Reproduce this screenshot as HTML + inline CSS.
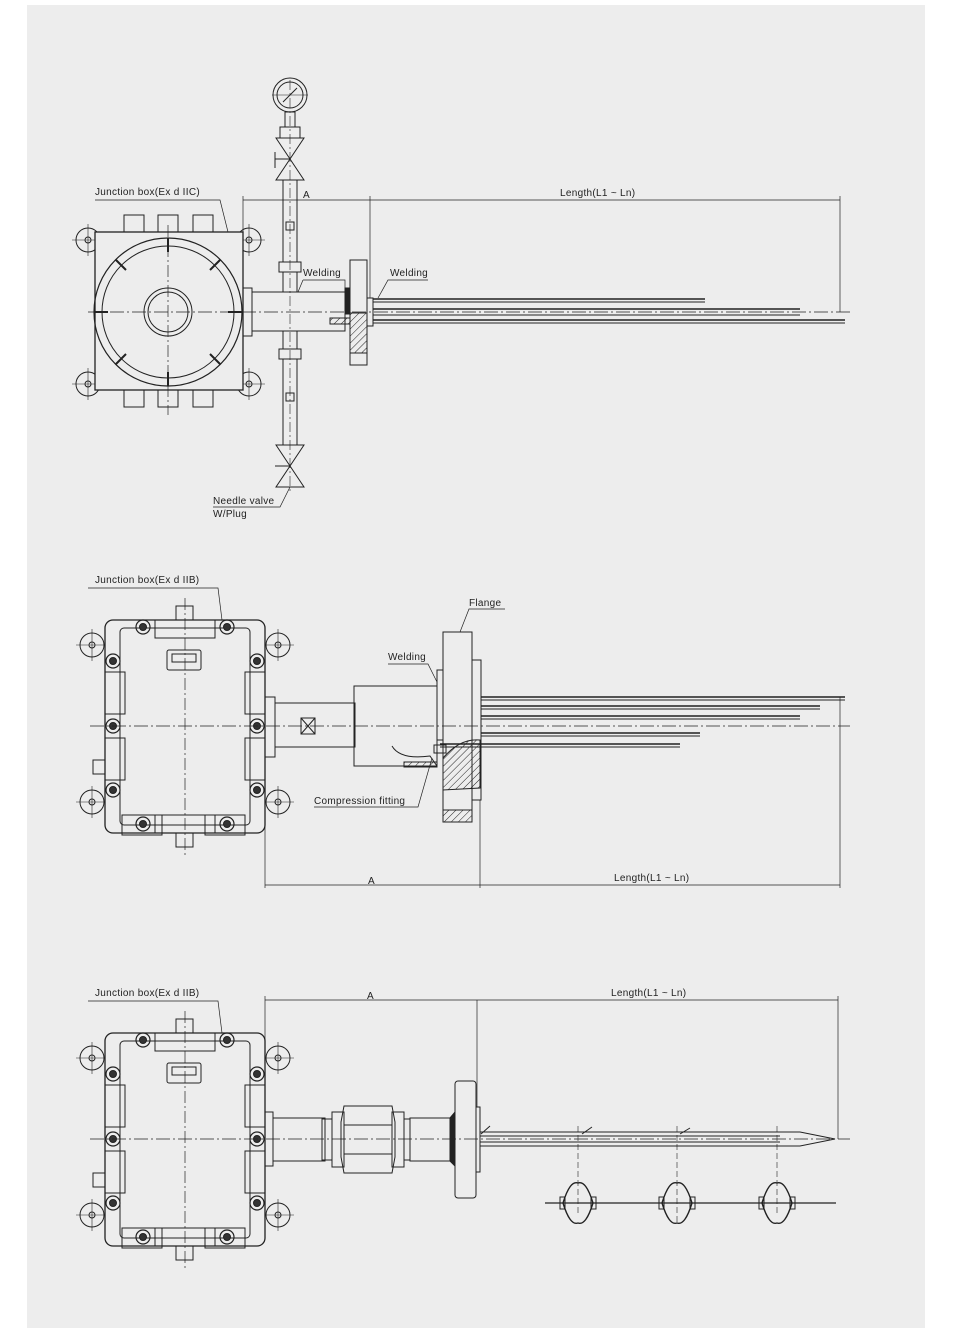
<!DOCTYPE html>
<html><head><meta charset="utf-8"><style>
html,body{margin:0;padding:0;background:#fff}
svg{display:block}
text{font-family:"Liberation Sans",sans-serif;font-size:10px;fill:#222;letter-spacing:0.3px}
</style></head><body>
<svg width="954" height="1331" viewBox="0 0 954 1331" xmlns="http://www.w3.org/2000/svg">
<defs>
<pattern id="h" width="5" height="5" patternUnits="userSpaceOnUse" patternTransform="rotate(45)"><line x1="0" y1="0" x2="0" y2="5" stroke="#222" stroke-width="1"/></pattern>
<g id="bolt"><circle r="7" fill="none" stroke="#222" stroke-width="1.2"/><circle r="3.5" fill="#333"/></g>
<g id="ear"><circle r="12" fill="none" stroke="#222"/><circle r="3" fill="none" stroke="#222"/><line x1="-16" y1="0" x2="16" y2="0" stroke="#222" stroke-width=".6"/><line x1="0" y1="-16" x2="0" y2="16" stroke="#222" stroke-width=".6"/></g>
<g id="boxB" fill="none" stroke="#222" stroke-width="1">
 <use href="#ear" x="92" y="645"/><use href="#ear" x="278" y="645"/><use href="#ear" x="92" y="802"/><use href="#ear" x="278" y="802"/>
 <rect x="105" y="620" width="160" height="213" rx="8" fill="#ededed" stroke-width="1.3"/>
 <rect x="120" y="628" width="130" height="197" rx="4"/>
 <rect x="155" y="620" width="60" height="18"/>
 <rect x="155" y="815" width="60" height="18"/>
 <rect x="105" y="672" width="20" height="42"/><rect x="105" y="738" width="20" height="42"/>
 <rect x="245" y="672" width="20" height="42"/><rect x="245" y="738" width="20" height="42"/>
 <rect x="176" y="606" width="17" height="14"/><rect x="176" y="833" width="17" height="14"/>
 <rect x="167" y="650" width="34" height="20" rx="2"/><rect x="172" y="654" width="24" height="8"/>
 <rect x="122" y="815" width="40" height="20"/><rect x="205" y="815" width="40" height="20"/>
 <use href="#bolt" x="143" y="627"/><use href="#bolt" x="227" y="627"/>
 <use href="#bolt" x="113" y="661"/><use href="#bolt" x="257" y="661"/>
 <use href="#bolt" x="113" y="726"/><use href="#bolt" x="257" y="726"/>
 <use href="#bolt" x="113" y="790"/><use href="#bolt" x="257" y="790"/>
 <use href="#bolt" x="143" y="824"/><use href="#bolt" x="227" y="824"/>
 <rect x="93" y="760" width="12" height="14"/>
 <line x1="185" y1="598" x2="185" y2="855" stroke-dasharray="12 3 2 3" stroke-width=".7"/>
</g>
</defs>
<rect x="27" y="5" width="898" height="1323" fill="#ededed"/>

<!-- SECTION 1 -->
<g fill="none" stroke="#222" stroke-width="1">
 <use href="#ear" x="88" y="240"/><use href="#ear" x="249" y="240"/><use href="#ear" x="88" y="384"/><use href="#ear" x="249" y="384"/>
 <rect x="95" y="232" width="148" height="158" fill="#ededed" stroke-width="1.3"/>
 <circle cx="168" cy="312" r="74" stroke-width="1.2"/>
 <circle cx="168" cy="312" r="66"/>
 <circle cx="168" cy="312" r="24"/><circle cx="168" cy="312" r="20"/>
 <g stroke-width="2"><line x1="168" y1="238" x2="168" y2="252"/><line x1="168" y1="372" x2="168" y2="386"/><line x1="94" y1="312" x2="108" y2="312"/><line x1="228" y1="312" x2="242" y2="312"/>
 <line x1="116" y1="260" x2="126" y2="270"/><line x1="220" y1="260" x2="210" y2="270"/><line x1="116" y1="364" x2="126" y2="354"/><line x1="220" y1="364" x2="210" y2="354"/></g>
 <rect x="124" y="215" width="20" height="17"/><rect x="158" y="215" width="20" height="17"/><rect x="193" y="215" width="20" height="17"/>
 <rect x="124" y="390" width="20" height="17"/><rect x="158" y="390" width="20" height="17"/><rect x="193" y="390" width="20" height="17"/>
 <line x1="168" y1="225" x2="168" y2="415" stroke-dasharray="12 3 2 3" stroke-width=".7"/>
 <line x1="88" y1="312" x2="850" y2="312" stroke-dasharray="14 3 2 3" stroke-width=".7"/>
 <rect x="243" y="288" width="9" height="48"/>
 <rect x="252" y="292" width="93" height="39"/>
 <rect x="345" y="288" width="5" height="26" fill="#222"/>
 <rect x="330" y="318" width="20" height="6" fill="url(#h)"/>
 <rect x="350" y="260" width="17" height="105"/>
 <rect x="350" y="313" width="17" height="40" fill="url(#h)"/>
 <!-- vertical tube -->
 <circle cx="290" cy="95" r="17"/><circle cx="290" cy="95" r="13"/>
 <line x1="283" y1="102" x2="297" y2="88"/>
 <rect x="285" y="112" width="10" height="15"/><rect x="280" y="127" width="20" height="11"/>
 <path d="M276 138 L304 180 L276 180 L304 138 Z"/>
 <line x1="275" y1="159" x2="290" y2="159"/><line x1="275" y1="152" x2="275" y2="168"/>
 <rect x="283" y="180" width="14" height="82"/>
 <rect x="279" y="262" width="22" height="10"/><rect x="283" y="272" width="14" height="20"/>
 <rect x="283" y="331" width="14" height="18"/><rect x="279" y="349" width="22" height="10"/>
 <rect x="283" y="359" width="14" height="86"/>
 <path d="M276 445 L304 487 L276 487 L304 445 Z"/>
 <line x1="275" y1="466" x2="290" y2="466"/>
 <rect x="286" y="222" width="8" height="8"/><rect x="286" y="393" width="8" height="8"/>
 <line x1="290" y1="80" x2="290" y2="492" stroke-dasharray="10 3 2 3" stroke-width=".6"/>
 <line x1="272" y1="95" x2="308" y2="95" stroke-width=".6"/>
 <!-- probes -->
 <rect x="367" y="298" width="6" height="28"/>
 <line x1="373" y1="299" x2="705" y2="299" stroke-width="1.5"/><line x1="373" y1="302" x2="705" y2="302" stroke-width="1"/>
 <line x1="373" y1="309" x2="800" y2="309" stroke-width="1.5"/><line x1="373" y1="315" x2="800" y2="315" stroke-width="1"/>
 <line x1="373" y1="320" x2="845" y2="320" stroke-width="1.5"/><line x1="373" y1="323" x2="845" y2="323" stroke-width="1"/>
 <!-- dims -->
 <line x1="243" y1="200" x2="840" y2="200" stroke-width=".7"/>
 <line x1="243" y1="196" x2="243" y2="232" stroke-width=".7"/>
 <line x1="370" y1="196" x2="370" y2="298" stroke-width=".7"/>
 <line x1="840" y1="196" x2="840" y2="312" stroke-width=".7"/>
 <polyline points="95,200 220,200 228,232" stroke-width=".7"/>
 <polyline points="303,280 345,280 345,290" stroke-width=".7"/><line x1="303" y1="280" x2="298" y2="292" stroke-width=".7"/>
 <polyline points="428,280 388,280 378,298" stroke-width=".7"/>
 <polyline points="213,507 280,507 290,487" stroke-width=".7"/>
</g>
<text x="95" y="195">Junction box(Ex d IIC)</text>
<text x="303" y="198">A</text>
<text x="560" y="196">Length(L1 ~ Ln)</text>
<text x="303" y="276">Welding</text>
<text x="390" y="276">Welding</text>
<text x="213" y="504">Needle valve</text>
<text x="213" y="517">W/Plug</text>

<!-- SECTION 2 -->
<use href="#boxB"/>
<g fill="none" stroke="#222" stroke-width="1">
 <line x1="90" y1="726" x2="850" y2="726" stroke-dasharray="14 3 2 3" stroke-width=".7"/>
 <rect x="265" y="697" width="10" height="60"/>
 <rect x="275" y="703" width="80" height="44"/>
 <rect x="301" y="718" width="14" height="16"/><path d="M301 718 L315 734 M315 718 L301 734"/>
 <rect x="354" y="686" width="83" height="80"/>
 <path d="M392 746 Q400 760 430 756 L437 766" />
 <rect x="404" y="762" width="33" height="5" fill="url(#h)"/>
 <rect x="437" y="670" width="6" height="70"/>
 <rect x="443" y="632" width="29" height="190"/>
 <path d="M443 758 Q460 738 480 740 L480 788 L443 790 Z" fill="url(#h)"/>
 <rect x="443" y="810" width="29" height="12" fill="url(#h)"/>
 <rect x="472" y="660" width="9" height="140"/>
 <line x1="481" y1="697" x2="845" y2="697" stroke-width="1.5"/><line x1="481" y1="700" x2="845" y2="700"/>
 <line x1="481" y1="706" x2="820" y2="706" stroke-width="1.5"/><line x1="481" y1="709" x2="820" y2="709"/>
 <line x1="481" y1="716" x2="800" y2="716" stroke-width="1.5"/><line x1="481" y1="719" x2="800" y2="719"/>
 <line x1="481" y1="733" x2="700" y2="733" stroke-width="1.5"/><line x1="481" y1="736" x2="700" y2="736"/>
 <line x1="440" y1="744" x2="680" y2="744" stroke-width="1.5"/><line x1="440" y1="747" x2="680" y2="747"/>
 <rect x="434" y="745" width="12" height="8"/>
 <line x1="265" y1="757" x2="265" y2="888" stroke-width=".7"/>
 <line x1="480" y1="800" x2="480" y2="888" stroke-width=".7"/>
 <line x1="840" y1="697" x2="840" y2="888" stroke-width=".7"/>
 <line x1="265" y1="885" x2="840" y2="885" stroke-width=".7"/>
 <polyline points="88,588 218,588 222,620" stroke-width=".7"/>
 <polyline points="505,609 469,609 460,632" stroke-width=".7"/>
 <polyline points="388,664 428,664 437,682" stroke-width=".7"/>
 <polyline points="314,807 418,807 432,758" stroke-width=".7"/>
</g>
<text x="95" y="583">Junction box(Ex d IIB)</text>
<text x="469" y="606">Flange</text>
<text x="388" y="660">Welding</text>
<text x="314" y="804">Compression fitting</text>
<text x="368" y="884">A</text>
<text x="614" y="881">Length(L1 ~ Ln)</text>

<!-- SECTION 3 -->
<use href="#boxB" y="413"/>
<g fill="none" stroke="#222" stroke-width="1">
 <line x1="90" y1="1139" x2="850" y2="1139" stroke-dasharray="14 3 2 3" stroke-width=".7"/>
 <rect x="265" y="1112" width="8" height="54"/>
 <rect x="273" y="1118" width="52" height="43"/>
 <rect x="322" y="1119" width="10" height="41"/><rect x="332" y="1112" width="12" height="55"/>
 <path d="M344 1106 L392 1106 L395 1122 L395 1157 L392 1173 L344 1173 L341 1157 L341 1122 Z"/>
 <line x1="344" y1="1125" x2="392" y2="1125"/><line x1="344" y1="1154" x2="392" y2="1154"/>
 <rect x="392" y="1112" width="12" height="55"/><rect x="404" y="1119" width="6" height="41"/>
 <rect x="410" y="1118" width="40" height="43"/>
 <path d="M450 1118 L455 1112 L455 1166 L450 1161 Z" fill="#222"/>
 <rect x="455" y="1081" width="21" height="117" rx="3"/>
 <rect x="476" y="1107" width="4" height="65"/>
 <path d="M480 1132 L800 1132 L835 1139 L800 1146 L480 1146" />
 <line x1="480" y1="1136" x2="780" y2="1136"/><line x1="480" y1="1142" x2="780" y2="1142"/>
 <path d="M481 1134 L490 1126 M582 1134 L592 1127 M680 1134 L690 1128" />
 <line x1="477" y1="1000" x2="477" y2="1107" stroke-width=".7"/>
 <line x1="265" y1="996" x2="265" y2="1112" stroke-width=".7"/>
 <line x1="838" y1="996" x2="838" y2="1139" stroke-width=".7"/>
 <line x1="265" y1="1000" x2="838" y2="1000" stroke-width=".7"/>
 <polyline points="88,1001 218,1001 222,1033" stroke-width=".7"/>
 <!-- spacers -->
 <line x1="545" y1="1203" x2="836" y2="1203" stroke-width="1.3"/>
 <g id="sp"><path d="M563 1203 Q570 1180 578 1183 Q586 1180 593 1203 Q586 1226 578 1223 Q570 1226 563 1203 Z" stroke-width="1.4"/><rect x="560" y="1197" width="5" height="12"/><rect x="591" y="1197" width="5" height="12"/></g>
 <use href="#sp" x="99"/><use href="#sp" x="199"/>
 <line x1="578" y1="1126" x2="578" y2="1215" stroke-dasharray="6 3" stroke-width=".6"/>
 <line x1="677" y1="1126" x2="677" y2="1225" stroke-dasharray="6 3" stroke-width=".6"/>
 <line x1="777" y1="1126" x2="777" y2="1215" stroke-dasharray="6 3" stroke-width=".6"/>
</g>
<text x="95" y="996">Junction box(Ex d IIB)</text>
<text x="367" y="999">A</text>
<text x="611" y="996">Length(L1 ~ Ln)</text>
</svg>
</body></html>
